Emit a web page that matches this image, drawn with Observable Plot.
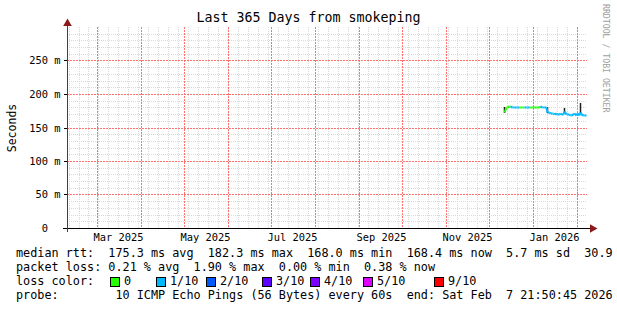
<!DOCTYPE html>
<html><head><meta charset="utf-8">
<script src="https://cdn.jsdelivr.net/npm/d3@7"></script>
<script src="https://cdn.jsdelivr.net/npm/@observablehq/plot@0.6"></script>
<style>
body{margin:0;background:#fff;}
#wrap{position:relative;width:617px;height:310px;overflow:hidden;background:#fff;font-family:"DejaVu Sans Mono",monospace;color:#000;}
#chart{position:absolute;left:0;top:0;}
#title{position:absolute;left:0;width:617px;top:11px;text-align:center;font-size:13.3px;line-height:14px;white-space:pre;}
#credit{position:absolute;left:601px;top:4px;writing-mode:vertical-rl;font-size:8.2px;color:#a0a0a0;white-space:pre;line-height:10px;}
#legend{position:absolute;left:16px;top:246px;font-size:11.8px;line-height:14px;white-space:pre;width:601px;overflow:hidden;}
.row{position:relative;height:14px;}
.box{position:absolute;top:3px;width:8px;height:8px;border:1px solid #000;}
.lab{position:absolute;top:0;}
</style></head>
<body><div id="wrap">
<div id="chart"></div>
<div id="title"></div>
<div id="credit"></div>
<div id="legend"></div>
</div>
<script>
// ---- data ----
const titleText = "Last 365 Days from smokeping";
const creditText = "RRDTOOL / TOBI OETIKER";
const yLabelText = "Seconds";
const endTime = "2026-02-07T21:50:45Z";
const startTime = "2025-02-07T21:50:45Z";

const yTicks = [0, 0.05, 0.10, 0.15, 0.20, 0.25];
const yTickLabels = ["0\u00a0\u00a0", "50 m", "100 m", "150 m", "200 m", "250 m"];
const xTickDates = ["2025-03-16", "2025-05-16", "2025-07-16", "2025-09-16", "2025-11-16", "2026-01-16"];
const xTickLabels = ["Mar 2025", "May 2025", "Jul 2025", "Sep 2025", "Nov 2025", "Jan 2026"];

const dates = [
 "2025-12-12","2025-12-13","2025-12-14","2025-12-15","2025-12-16","2025-12-17","2025-12-18","2025-12-19",
 "2025-12-20","2025-12-21","2025-12-22","2025-12-23","2025-12-24","2025-12-25","2025-12-26","2025-12-27",
 "2025-12-28","2025-12-29","2025-12-30","2025-12-31","2026-01-01","2026-01-02","2026-01-03","2026-01-04",
 "2026-01-05","2026-01-06","2026-01-07","2026-01-08","2026-01-09","2026-01-10","2026-01-11","2026-01-12",
 "2026-01-13","2026-01-14","2026-01-15","2026-01-16","2026-01-17","2026-01-18","2026-01-19","2026-01-20",
 "2026-01-21","2026-01-22","2026-01-23","2026-01-24","2026-01-25","2026-01-26","2026-01-27","2026-01-28",
 "2026-01-29","2026-01-30","2026-01-31","2026-02-01","2026-02-02","2026-02-03","2026-02-04","2026-02-05",
 "2026-02-06","2026-02-07"];
const medianMs = [
 173.5,180.5,181.0,181.5,182.3,181.0,180.8,180.5,
 180.9,180.6,180.4,180.7,180.5,180.9,180.6,180.4,
 180.7,180.5,180.6,180.4,180.7,180.5,180.3,180.6,
 180.5,181.8,180.4,180.5,180.3,180.4,172.8,173.0,
 172.2,171.5,172.0,170.6,171.2,169.8,170.5,171.0,
 169.6,170.4,174.5,170.2,169.5,170.8,169.2,168.6,
 169.9,170.9,168.8,171.5,169.4,173.8,169.5,168.5,
 168.3,168.4];
const lossIdx = [
 1,0,0,0,0,1,1,1,
 1,1,1,0,0,0,0,1,
 1,1,0,0,0,0,0,0,
 0,0,1,1,1,1,1,1,
 1,1,1,1,1,1,1,1,
 1,1,1,1,1,1,1,1,
 1,1,1,1,1,1,1,1,
 1,1];

const smokeDates = ["2025-12-12", "2026-01-11", "2026-01-23", "2026-02-03"];
const smokeLowMs = [172.0, 171.0, 172.0, 172.0];
const smokeHighMs = [180.0, 180.0, 179.0, 186.0];

const lossColors = ["#26ff00", "#00b8ff", "#0059ff", "#5e00ff", "#7e00ff", "#dd00ff", "#ff0000"];
const lossLabels = ["0", "1/10", "2/10", "3/10", "4/10", "5/10", "9/10"];

const medianLine = "median rtt:  175.3 ms avg  182.3 ms max  168.0 ms min  168.4 ms now  5.7 ms sd  30.9";
const lossLine = "packet loss: 0.21 % avg  1.90 % max  0.00 % min  0.38 % now";
const lossColorLead = "loss color:";
const probeLine = "probe:        10 ICMP Echo Pings (56 Bytes) every 60s  end: Sat Feb  7 21:50:45 2026";

// ---- build ----
const parse = s => new Date(s.length === 10 ? s + "T00:00:00Z" : s);
const start = parse(startTime), end = parse(endTime);

const segs = [];
for (let i = 1; i < dates.length; i++) {
  segs.push({x1: parse(dates[i-1]), y1: medianMs[i-1] / 1000, x2: parse(dates[i]), y2: medianMs[i] / 1000, c: lossColors[lossIdx[i]]});
}
const smoke = smokeDates.map((d, i) => ({x: parse(d), lo: smokeLowMs[i] / 1000, hi: smokeHighMs[i] / 1000}));

const monthStarts = d3.utcMonth.range(d3.utcMonth.ceil(start), end);
const weeks = d3.utcSunday.range(d3.utcSunday.ceil(start), end);
const minorY = d3.range(1, 31).map(i => i / 100).filter(v => Math.round(v * 100) % 5 !== 0);
const majorY = yTicks.filter(v => v > 0);
const xTicks = xTickDates.map(parse);
const xLab = new Map(xTicks.map((d, i) => [+d, xTickLabels[i]]));
const yLab = new Map(yTicks.map((d, i) => [Math.round(d * 1000), yTickLabels[i]]));

const arrowColor = "#8c1a1a";
const minorColor = "#d9d9d9";
const majorColor = "#ff7070";

const chart = Plot.plot({
  width: 617, height: 245,
  marginLeft: 67, marginRight: 30, marginTop: 27, marginBottom: 17,
  style: {fontFamily: "'DejaVu Sans Mono', monospace", fontSize: "10.4px", background: "transparent", color: "#000"},
  x: {type: "utc", domain: [start, end], round: true},
  y: {domain: [0, 0.3], round: true},
  marks: [
    Plot.ruleX(weeks, {stroke: minorColor, strokeDasharray: "1,1"}),
    Plot.ruleY(minorY, {stroke: minorColor, strokeDasharray: "1,1"}),
    Plot.ruleX(monthStarts, {stroke: majorColor, strokeDasharray: "2,1"}),
    Plot.ruleY(majorY, {stroke: majorColor, strokeDasharray: "2,1"}),
    Plot.ruleX(smoke, {x: "x", y1: "lo", y2: "hi", stroke: "#202020", strokeWidth: 1.5}),
    Plot.link(segs, {x1: "x1", y1: "y1", x2: "x2", y2: "y2", stroke: "c", strokeWidth: 2}),
    Plot.axisY(yTicks, {tickSize: 3, tickPadding: 4, tickFormat: d => yLab.get(Math.round(d * 1000)),
      label: yLabelText, labelAnchor: "center", labelOffset: 60, fontSize: "10.4px"}),
    Plot.axisX(xTicks, {tickSize: 0, tickPadding: 5, tickFormat: d => xLab.get(+d), label: null}),
    Plot.ruleY([0], {stroke: "#000", strokeWidth: 1, insetLeft: -4, insetRight: -3}),
    Plot.ruleX([start], {stroke: "#404040", strokeWidth: 1, insetBottom: -4, insetTop: -3}),
    Plot.dot([start], {x: d => d, y: () => 0.3, symbol: "triangle", r: 3.2, fill: arrowColor, stroke: "none", dy: -4}),
    Plot.dot([end], {x: d => d, y: () => 0, symbol: "triangle", r: 3.2, fill: arrowColor, stroke: "none", dx: 5, rotate: 90})
  ]
});
document.getElementById("chart").appendChild(chart);
// y label: no arrow, slightly larger font
chart.querySelectorAll("text").forEach(t => {
  if (t.textContent.startsWith(yLabelText)) { t.textContent = yLabelText; t.style.fontSize = "11.5px"; }
});

document.getElementById("title").textContent = titleText;
document.getElementById("credit").textContent = creditText;

const leg = document.getElementById("legend");
function row(text) { const r = document.createElement("div"); r.className = "row"; r.textContent = text; leg.appendChild(r); return r; }
row(medianLine);
row(lossLine);
const lc = row(lossColorLead);
const boxX = [94, 140, 190, 246, 294, 347, 418];
lossColors.forEach((c, i) => {
  const b = document.createElement("span"); b.className = "box"; b.style.left = boxX[i] + "px"; b.style.background = c; lc.appendChild(b);
  const l = document.createElement("span"); l.className = "lab"; l.style.left = (boxX[i] + 14) + "px"; l.textContent = lossLabels[i]; lc.appendChild(l);
});
row(probeLine);
</script>
</body></html>
